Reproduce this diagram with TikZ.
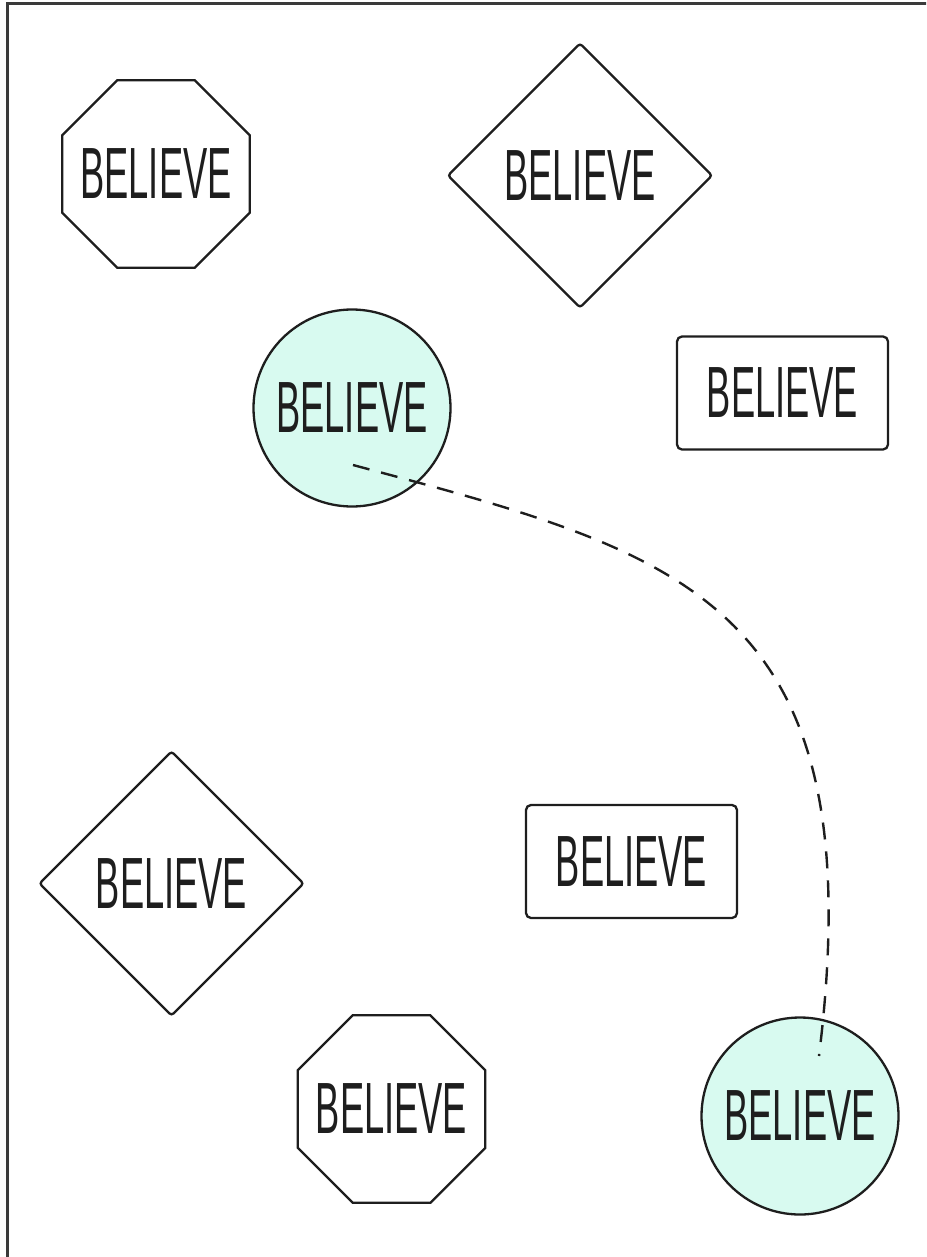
\documentclass[tikz,border=0pt]{standalone}
\usepackage{fontspec}
\setmainfont{Liberation Sans}[FakeStretch=0.5]
\usepackage{tikz}
\usetikzlibrary{calc,shapes.geometric}
\definecolor{mint}{HTML}{D8FAF0}
\definecolor{ink}{HTML}{1E1E1E}
\definecolor{frame}{HTML}{3A3A3A}

\begin{document}
\begin{tikzpicture}[x=1pt,y=1pt,
  sign/.style={draw=ink,line width=2.3pt,inner sep=0pt,text=ink,
    font=\fontsize{72.6}{80}\selectfont},
  octa/.style={sign,regular polygon,regular polygon sides=8,inner sep=-30pt,minimum size=203pt},
  diam/.style={sign,diamond,minimum width=265pt,minimum height=265pt,rounded corners=3pt},
  disc/.style={sign,circle,fill=mint,minimum size=197pt},
  board/.style={sign,rectangle,rounded corners=5pt,minimum width=211pt,minimum height=113pt},
  link/.style={draw=ink,line width=2.4pt,dash pattern=on 17pt off 12pt}]
\useasboundingbox (0,0) rectangle (926,-1257);
\clip (0,0) rectangle (926,-1257);
% frame
\draw[frame,line width=2.7pt] (7.5,-3.5) rectangle (980,-1300);

% signs
\node[octa]  (o1) at (156,-174)     {BELIEVE};
\node[diam]  (d1) at (580,-175.5)   {BELIEVE};
\node[disc]  (c1) at (352,-408)     {BELIEVE};
\node[board] (b1) at (782.5,-393)   {BELIEVE};
\node[diam]  (d2) at (171.5,-883.5) {BELIEVE};
\node[board] (b2) at (631.5,-861.5) {BELIEVE};
\node[octa]  (o2) at (391.5,-1109)  {BELIEVE};
\node[disc]  (c2) at (800,-1116)    {BELIEVE};

% dashed link
\coordinate (s) at ($(c1.center)+(1,-57)$);
\coordinate (e) at ($(c2.center)+(19,60)$);
\draw[link] (s) to[out=-15,in=83,out distance=340pt,in distance=460pt] (e);
\end{tikzpicture}
\end{document}
